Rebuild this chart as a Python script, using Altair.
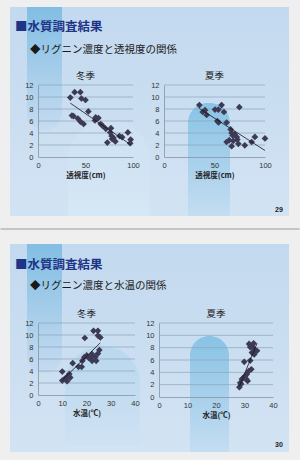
import altair as alt
import pandas as pd

# ---------------- data ----------------
# Slide 29: lignin concentration vs transparency (cm)
winter_trans_x = [34, 38.6, 44.6, 45.7, 50, 35.7, 37.5, 42, 44.6, 48, 53, 60.7, 63.6, 60, 66, 68,
                  71.4, 76.8, 77.5, 79.3, 81.4, 73, 85.7, 88.6, 94.6, 97.5, 97, 76, 78]
winter_trans_y = [9.9, 10.8, 10.8, 9.75, 9.5, 6.9, 6.8, 6.4, 5.9, 5.5, 7.6, 6.6, 6.5, 6.1, 5.5, 5.2,
                  4.7, 4.8, 3.5, 3.2, 2.6, 2.4, 3.5, 3.3, 4.1, 2.9, 2.3, 4.1, 3.0]
summer_trans_x = [35, 38.3, 40.6, 42.2, 50.5, 53.8, 57, 59.4, 52.8, 54, 62, 74.6, 66, 67, 68, 72,
                  62, 64.7, 68.6, 67, 73.6, 72.6, 80, 86.8, 90, 100, 70]
summer_trans_y = [8.65, 7.5, 7.8, 7.0, 7.9, 7.9, 8.65, 7.5, 6.0, 5.75, 5.75, 8.3, 4.6, 4.0, 3.6, 3.35,
                  2.5, 2.8, 2.7, 1.8, 2.2, 2.9, 1.95, 2.5, 3.35, 3.1, 3.8]
# Slide 30: lignin concentration vs water temperature
winter_temp_x = [10, 10, 11, 12, 12.4, 12.9, 13.3, 12, 14.3, 16.7, 18, 18.3, 19.1, 19.3, 20.1, 20.9,
                 21.7, 22.3, 22.3, 22.9, 24.7, 24.7, 25.7, 23.6, 24.7, 25.3, 24]
winter_temp_y = [3.9, 2.4, 2.7, 2.3, 3.2, 3.5, 2.9, 2.9, 5.3, 4.7, 4.7, 5.7, 6.3, 9.5, 6.6, 6.2,
                 6.3, 5.7, 6.8, 10.7, 10.7, 9.9, 9.6, 6.3, 6.9, 7.5, 5.7]
summer_temp_x = [28.2, 28.5, 29.1, 29.6, 30.6, 30.8, 31.1, 29.9, 32, 32.4, 31.6, 32.6, 33.2, 33.8,
                 34.4, 32.6, 33.4, 32, 33.2, 28.8, 30.2, 31.5]
summer_temp_y = [1.6, 2.3, 2.9, 3.1, 2.9, 3.7, 2.6, 5.7, 5.9, 4.5, 8.6, 8.3, 7.9, 7.5,
                 7.5, 7.2, 6.9, 8.1, 8.7, 2.1, 3.4, 4.2]

y_ticks = [0, 2, 4, 6, 8, 10, 12]
y_grid = [2, 4, 6, 8, 10, 12]
trans_ticks = [0, 50, 100]
temp_ticks = [0, 10, 20, 30, 40]

slide_title = "■水質調査結果"
sub1 = "◆リグニン濃度と透視度の関係"
sub2 = "◆リグニン濃度と水温の関係"
seasons = ["冬季", "夏季"]
xtitle1 = "透視度(cm)"
xtitle2 = "水温(℃)"
pages = ["29", "30"]

# ---------------- style ----------------
JP = "Noto Sans CJK JP"
NUM = "Liberation Sans"
PAGE = "#efefef"
POINT = "#3d3a55"
GRID = "#8ea3b8"
DOMAIN = "#8494a6"


def one():
    return pd.DataFrame({"d": [0]})


def grad(c1, c2):
    return alt.LinearGradient(gradient="linear",
                              stops=[alt.GradientStop(offset=0, color=c1),
                                     alt.GradientStop(offset=1, color=c2)],
                              x1=0, x2=0, y1=0, y2=1)


def rect(o, x, x2, y, y2, c1, c2, rt=0, rb=0):
    ox, oy = o
    return alt.Chart(one()).mark_rect(
        color=grad(c1, c2),
        cornerRadiusTopLeft=rt, cornerRadiusTopRight=rt,
        cornerRadiusBottomLeft=rb, cornerRadiusBottomRight=rb,
    ).encode(x=alt.value(x - ox), x2=alt.value(x2 - ox),
             y=alt.value(y - oy), y2=alt.value(y2 - oy))


def hline(o, y, color, width=1.0):
    ox, oy = o
    return alt.Chart(one()).mark_rule(color=color, strokeWidth=width).encode(
        x=alt.value(0.5 - ox), x2=alt.value(299.5 - ox), y=alt.value(y - oy))


def txt(o, text, x, y, size, color, weight="normal", align="left", font=JP):
    ox, oy = o
    return alt.Chart(one()).mark_text(
        text=text, align=align, baseline="alphabetic", fontSize=size,
        font=font, fontWeight=weight, color=color,
    ).encode(x=alt.value(x - ox), y=alt.value(y - oy))


def panel(xs, ys, xdom, xticks, xtitle, season, w, h, extra=None, front=False):
    df = pd.DataFrame({"x": xs, "y": ys})
    xscale = alt.Scale(domain=xdom, nice=False)
    yscale = alt.Scale(domain=[0, 12], nice=False)
    z = 1 if front else 0
    xaxis = alt.Axis(values=xticks, title=xtitle, grid=False, ticks=False,
                     domainColor=DOMAIN, domainWidth=0.8,
                     labelFont=NUM, labelFontSize=7.5, labelColor="#333",
                     labelPadding=4, labelFlush=False,
                     titleFont=JP, titleFontSize=7.5, titleFontWeight="bold",
                     titleColor="#222", titlePadding=3, zindex=z)
    yaxis = alt.Axis(values=y_ticks, title=None, grid=False, ticks=False,
                     domainColor=DOMAIN, domainWidth=0.8,
                     labelFont=NUM, labelFontSize=7.5, labelColor="#333",
                     labelPadding=5, labelFlush=False, zindex=z)
    grid = alt.Chart(pd.DataFrame({"g": y_grid})).mark_rule(
        color=GRID, strokeWidth=0.7).encode(y=alt.Y("g:Q", scale=yscale, axis=yaxis))
    pts = alt.Chart(df).mark_point(shape="diamond", filled=True, size=45,
                                   color=POINT, opacity=1).encode(
        x=alt.X("x:Q", scale=xscale, axis=xaxis),
        y=alt.Y("y:Q", scale=yscale, axis=yaxis))
    reg = alt.Chart(df).transform_regression("x", "y").mark_line(
        color="#151515", strokeWidth=0.8).encode(
        x=alt.X("x:Q", scale=xscale, axis=xaxis),
        y=alt.Y("y:Q", scale=yscale, axis=yaxis))
    head = alt.Chart(one()).mark_text(
        text=season, align="center", baseline="alphabetic", fontSize=9.5,
        font=JP, color="#222").encode(x=alt.value(w / 2), y=alt.value(-6))
    layers = (extra or []) + [grid, pts, reg, head]
    return alt.layer(*layers).properties(width=w, height=h)


# ---------------- slide 1 ----------------
o1 = (38, 85)
deco1 = [
    rect(o1, 10, 289, 7, 216, "#c3d9ef", "#d2e3f3"),
    rect(o1, 27, 62, 7, 130, "#82bee3", "#c5dbf0", rb=17),
    rect(o1, 68, 150, 120, 216, "#cde1f3", "#d6e7f5", rt=40),
    rect(o1, 188, 230, 103, 216, "#88c3e5", "#c4ddf1", rt=20),
    hline(o1, 229, "#9a9a9a"),
    txt(o1, slide_title, 15, 31.4, 12.5, "#1e3585", weight="bold"),
    txt(o1, sub1, 30, 52.5, 10.5, "#1a1a1a"),
    txt(o1, pages[0], 279, 212, 7, "#222", weight="bold", align="center", font=NUM),
]
s1_left = panel(winter_trans_x, winter_trans_y, [0, 100], trans_ticks, xtitle1,
                seasons[0], 95, 72, extra=deco1, front=True)
s1_right = panel(summer_trans_x, summer_trans_y, [0, 100], trans_ticks, xtitle1,
                 seasons[1], 101, 72)
slide1 = alt.hconcat(s1_left, s1_right, spacing=31, bounds="flush").resolve_scale(
    x="independent", y="independent")

# ---------------- slide 2 ----------------
o2 = (38, 322)
deco2 = [
    hline(o2, 243, PAGE),
    rect(o2, 10, 289, 243, 451, "#c3d9ef", "#d2e3f3"),
    rect(o2, 27, 62, 243, 372, "#82bee3", "#c5dbf0", rb=17),
    rect(o2, 65, 140, 345, 445, "#b9d7ee", "#cfe2f3", rt=38),
    rect(o2, 190, 229, 335, 451, "#88c3e5", "#c4ddf1", rt=20),
    txt(o2, slide_title, 15, 267.7, 12.5, "#1e3585", weight="bold"),
    txt(o2, sub2, 30, 287.8, 10.5, "#1a1a1a"),
    txt(o2, pages[1], 279, 446, 7, "#222", weight="bold", align="center", font=NUM),
]
s2_left = panel(winter_temp_x, winter_temp_y, [0, 40], temp_ticks, xtitle2,
                seasons[0], 97, 72, extra=deco2, front=True)
s2_right = panel(summer_temp_x, summer_temp_y, [0, 40], temp_ticks, xtitle2,
                 seasons[1], 114, 74)
slide2 = alt.hconcat(s2_left, s2_right, spacing=24, bounds="flush").resolve_scale(
    x="independent", y="independent")

chart = alt.vconcat(slide1, slide2, spacing=13, bounds="full").resolve_scale(
    x="independent", y="independent").properties(
    background=PAGE,
    padding={"left": 0, "right": 0, "top": 7, "bottom": 9},
).configure_view(strokeWidth=0)

chart.save("out.html", embed_options={"renderer": "svg", "actions": False})
